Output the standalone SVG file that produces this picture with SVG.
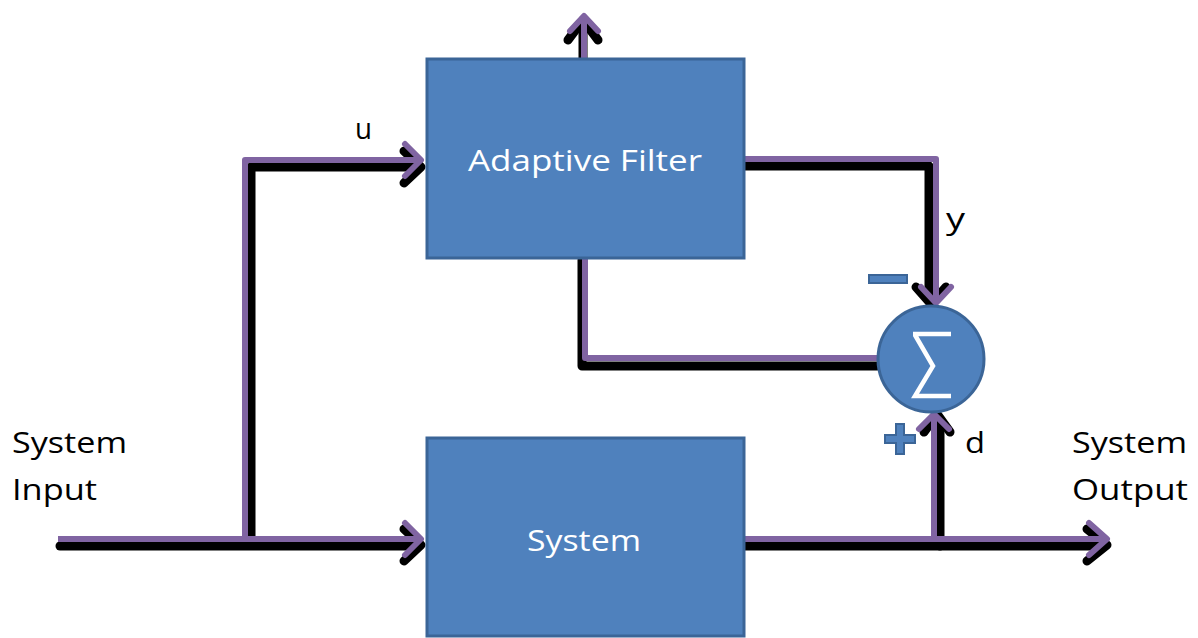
<svg xmlns="http://www.w3.org/2000/svg" width="1198" height="638" viewBox="0 0 1198 638">
<style>
.blk{fill:none;stroke:#000;stroke-width:9;stroke-linecap:round;stroke-linejoin:round}
.pur{fill:none;stroke:#8064a2;stroke-width:6;stroke-linecap:butt;stroke-linejoin:round}
.ah{fill:none;stroke:#8064a2;stroke-width:6;stroke-linecap:round;stroke-linejoin:round}
.box{fill:#4f81bd;stroke:#3b6597;stroke-width:3}
.lbl{font-family:"Open Sans","Liberation Sans",sans-serif;font-size:29px;fill:#000}
.in{font-family:"Open Sans","Liberation Sans",sans-serif;font-size:30px;fill:#fff}
.sign{fill:#4f81bd;stroke:#3b6597;stroke-width:2}
</style>
<rect width="1198" height="638" fill="#fff"/>
<g id="connectors">
  <path class="blk" d="M60,546 H415"/>
  <path class="blk" d="M404,529 L421,545 L404,561"/>
  <path class="blk" d="M251,540 V167 H415"/>
  <path class="blk" d="M404,151 L421,167 L404,183"/>
  <path class="blk" d="M583,58 V22"/>
  <path class="blk" d="M568,40 L583,20 L598,40"/>
  <path class="blk" d="M744,166 H929 V298"/>
  <path class="blk" d="M916,287 L931,304 L946,287"/>
  <path class="blk" d="M582,260 V366 H877"/>
  <path class="blk" d="M744,546 H1102"/>
  <path class="blk" d="M1087,529 L1107,545 L1087,561"/>
  <path class="blk" d="M940,546 V420"/>
  <path class="blk" d="M924,432 L937,414 L950,432"/>
  <path class="pur" d="M58,539 H420"/>
  <path class="ah" d="M405,523 L421,539 L405,555"/>
  <path class="pur" d="M245,539 V160 H420"/>
  <path class="ah" d="M405,144 L421,160 L405,176"/>
  <path class="pur" d="M584,58 V16"/>
  <path class="ah" d="M570,31 L584,16 L598,31"/>
  <path class="pur" d="M744,159 H936 V302"/>
  <path class="ah" d="M921,287 L936,303 L951,287"/>
  <path class="pur" d="M585,258 V358 H877"/>
  <path class="pur" d="M744,539 H1107"/>
  <path class="ah" d="M1089,523 L1107,539 L1089,555"/>
  <path class="pur" d="M934,542 V414"/>
  <path class="ah" d="M919,429 L934,414 L949,429"/>
</g>
<g id="adaptive-filter">
  <rect class="box" x="427" y="59" width="317" height="199"/>
  <text class="in" x="468" y="171" textLength="234" lengthAdjust="spacingAndGlyphs">Adaptive Filter</text>
</g>
<g id="system">
  <rect class="box" x="427" y="438" width="317" height="198"/>
  <text class="in" x="527" y="551" textLength="114" lengthAdjust="spacingAndGlyphs">System</text>
</g>
<g id="sum">
  <circle cx="931" cy="359" r="53" fill="#4f81bd" stroke="#3b6597" stroke-width="3"/>
  <path d="M913,334 H951 M915,335 L933,366 L915,396 H951" fill="none" stroke="#fff" stroke-width="4.5" stroke-linejoin="miter"/>
</g>
<g id="signs">
  <rect class="sign" x="869" y="275" width="38" height="8"/>
  <path class="sign" d="M896,424 h8 v11 h11 v8 h-11 v11 h-8 v-11 h-11 v-8 h11 z"/>
</g>
<g id="labels">
  <text class="lbl" x="355" y="139" textLength="17" lengthAdjust="spacingAndGlyphs">u</text>
  <text class="lbl" x="946" y="229" textLength="19" lengthAdjust="spacingAndGlyphs">y</text>
  <text class="lbl" x="965" y="453" textLength="20" lengthAdjust="spacingAndGlyphs">d</text>
  <text class="lbl" x="12" y="453" textLength="115" lengthAdjust="spacingAndGlyphs">System</text>
  <text class="lbl" x="12" y="500" textLength="85" lengthAdjust="spacingAndGlyphs">Input</text>
  <text class="lbl" x="1072" y="453" textLength="115" lengthAdjust="spacingAndGlyphs">System</text>
  <text class="lbl" x="1072" y="500" textLength="116" lengthAdjust="spacingAndGlyphs">Output</text>
</g>
</svg>
